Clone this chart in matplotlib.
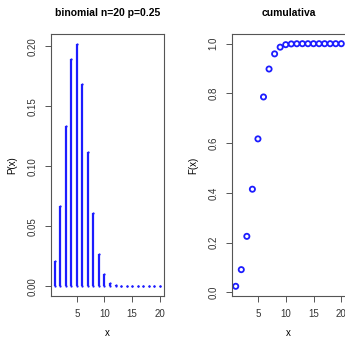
import matplotlib
matplotlib.use("Agg")
import matplotlib.pyplot as plt
import numpy as np

x = list(range(1, 21))
prob = [0.0211, 0.0669, 0.1339, 0.1897, 0.2023, 0.1686, 0.1124, 0.0609,
        0.0271, 0.0099, 0.0030, 0.0008, 0.0002, 0.00003, 0.000004,
        0.0, 0.0, 0.0, 0.0, 0.0]
cum = [0.0243, 0.0913, 0.2252, 0.4148, 0.6172, 0.7858, 0.8982, 0.9591,
       0.9861, 0.9961, 0.9991, 0.9998, 1.0, 1.0, 1.0, 1.0, 1.0, 1.0, 1.0, 1.0]
xticks = [5, 10, 15, 20]
yticks_p = [0.00, 0.05, 0.10, 0.15, 0.20]
yticks_f = [0.0, 0.2, 0.4, 0.6, 0.8, 1.0]

plt.rcParams['font.family'] = ['Liberation Sans', 'DejaVu Sans']
W, H = 345, 339
fig = plt.figure(figsize=(W / 100, H / 100), dpi=100)

ax1 = fig.add_axes([50.5 / W, 1 - 296 / H, (164 - 50.5) / W, (296 - 34) / H])
ax2 = fig.add_axes([231.5 / W, 1 - 296 / H, (345.5 - 231.5) / W, (296 - 34) / H])

blue = '#1c1cff'
lw = 1.6
ax1.vlines(x, 0, prob, colors=blue, linewidth=lw)
# round line caps (as R draws them), visible as dots for near-zero bars
ax1.plot(x, prob, ls='none', marker='o', ms=lw, mew=0, color=blue)
ax1.plot(x, [0] * len(x), ls='none', marker='o', ms=lw, mew=0, color=blue)
ax1.set_xlim(1 - 0.76, 20 + 0.76)
ax1.set_ylim(-0.04 * max(prob), max(prob) * 1.04)
ax1.set_xticks(xticks)
ax1.set_yticks(yticks_p)
ax1.set_yticklabels([f"{v:.2f}" for v in yticks_p], rotation=90, va='center')
ax1.set_title("binomial n=20 p=0.25", fontsize=7.5, fontweight='bold', pad=13)
ax1.set_xlabel("x", fontsize=7, labelpad=6)
ax1.set_ylabel("P(x)", fontsize=7, labelpad=7)

ax2.scatter(x, cum, s=14, facecolors='none', edgecolors=blue, linewidths=1.3)
ax2.set_xlim(1 - 0.76, 20 + 0.76)
lo, hi = min(cum), max(cum)
pad = 0.04 * (hi - lo)
ax2.set_ylim(lo - pad, hi + pad)
ax2.set_xticks(xticks)
ax2.set_yticks(yticks_f)
ax2.set_yticklabels([f"{v:.1f}" for v in yticks_f], rotation=90, va='center')
ax2.set_title("cumulativa", fontsize=7.5, fontweight='bold', pad=13)
ax2.set_xlabel("x", fontsize=7, labelpad=6)
ax2.set_ylabel("F(x)", fontsize=7, labelpad=7)

for ax in (ax1, ax2):
    for s in ax.spines.values():
        s.set_color('#555555')
        s.set_linewidth(0.8)
    ax.tick_params(labelsize=7, length=4.5, width=0.7, color='#555555',
                   labelcolor='#333333', pad=5)

fig.savefig("out.png", dpi=100)
